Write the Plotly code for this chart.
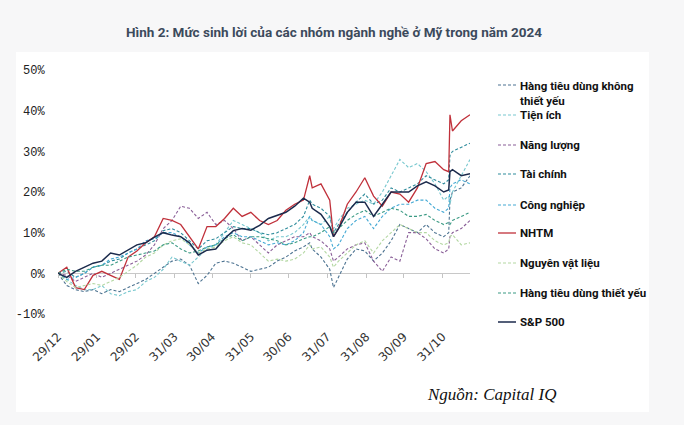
import plotly.graph_objects as go

# ---------------- data ----------------
dates = [
    "2023-12-29", "2024-01-05", "2024-01-12", "2024-01-19", "2024-01-26",
    "2024-02-02", "2024-02-09", "2024-02-16", "2024-02-23", "2024-03-01",
    "2024-03-08", "2024-03-15", "2024-03-22", "2024-03-29", "2024-04-05",
    "2024-04-12", "2024-04-19", "2024-04-26", "2024-05-03", "2024-05-10",
    "2024-05-17", "2024-05-24", "2024-05-31", "2024-06-07", "2024-06-14",
    "2024-06-21", "2024-06-28", "2024-07-05", "2024-07-12", "2024-07-17",
    "2024-07-19", "2024-07-26", "2024-08-02", "2024-08-05", "2024-08-09",
    "2024-08-16", "2024-08-23", "2024-08-30", "2024-09-06", "2024-09-13",
    "2024-09-20", "2024-09-27", "2024-10-04", "2024-10-11", "2024-10-18",
    "2024-10-25", "2024-11-01", "2024-11-05", "2024-11-06", "2024-11-08",
    "2024-11-15", "2024-11-22",
]

htd_khong_thiet_yeu = [0, -3, -4, -4.5, -4, -5, -4, -4.5, -3.5, -2.5, -1.5, 0, 1.5, 3, 3.5,
                       2, -2.5, -0.5, 2.5, 3, 2.5, 1.5, 0.5, 1, 1.5, 3, 4, 5.5, 6.5, 7.5,
                       6, 4, 1, -3.5, -1, 3.5, 6, 5.5, 3, 5, 8, 12, 11, 10, 12,
                       10, 9, 10, 18, 20, 21, 24]
tien_ich = [0, -1.5, -3, -4, -4, -3, -5, -5.5, -4.5, -4, -2, -1, 1, 4, 3,
            2, 4, 6, 7, 10, 13, 12, 11, 10, 8, 9, 9, 10, 12, 14,
            13, 12, 14, 11, 13, 16, 17, 18, 17, 20, 24, 28, 26, 27, 25,
            22, 18, 19, 17, 20, 24, 28]
nang_luong = [0, -0.5, -2, -1, 0, -1, 0, 1, 2, 3, 4.5, 7, 11, 13, 16.5,
              16, 13.5, 15, 12, 13, 11, 8, 9, 7, 5, 7, 8, 9, 9, 10,
              9, 8, 6, 3, 4, 6, 7, 7.5, 3, 0.5, 4, 3, 10, 10, 8.5,
              6, 5, 6, 9, 10, 11, 13]
tai_chinh = [0, 0.5, -1, 0, 1.5, 2, 3, 3.5, 5, 6, 7, 8, 10.5, 11, 10,
             8, 6, 8, 8.5, 10, 11.5, 11, 11, 10, 9.5, 10, 11, 12, 14, 18,
             17, 16, 14, 10, 12, 15, 17.5, 19.5, 17, 18, 21, 20, 21, 22, 24,
             23, 22, 23, 29, 30, 31, 32]
cong_nghiep = [0, -1.5, -1, 0, 1.5, 2, 3.5, 4, 5, 6, 8, 8.5, 10, 10, 9,
               7, 5, 6.5, 7, 9, 10, 9, 9, 8, 7, 7.5, 7, 8, 10, 14,
               13, 12, 9, 6, 7, 11, 13, 14, 11, 14, 16, 17, 17, 18, 18,
               16, 15, 16, 21, 22, 23, 22]
nhtm = [0, 1.5, -3.5, -4.0, -0.5, 0.5, -0.5, -1.5, 4.0, 5.5, 7.5, 9.0, 13.5, 13.0, 12.0,
        9.0, 6.0, 11.5, 11.5, 13.5, 16.0, 14.0, 15.0, 13.0, 12.0, 13.0, 15.5, 17.0, 18.0, 24.0,
        21.0, 22.0, 18.0, 9.0, 11.0, 17.0, 20.0, 23.5, 19.0, 16.5, 20.0, 19.5, 17.5, 21.0, 27.0,
        27.5, 25.5, 25.0, 39.0, 35.0, 37.5, 39.0]
nguyen_vat_lieu = [0, -2, -3.5, -3, -2.5, -3, -2, -1, 0.5, 2, 4, 5, 7, 8, 8.5,
                   7, 5, 6, 6.5, 8, 9, 7.5, 7, 5, 3, 3.5, 3, 3.5, 5, 7,
                   6, 6.5, 4, 1.5, 3, 5, 7, 8, 5, 8, 10, 12, 11, 10, 10,
                   8, 7, 7.5, 9, 9.5, 7, 7.5]
htd_thiet_yeu = [0, 1, 0.5, 0.5, 1.5, 2, 2, 3, 4, 4.5, 5, 5.5, 7, 7.5, 6,
                 5, 5.5, 6.5, 7, 8.5, 9.5, 8, 9, 9, 8.5, 8, 7, 7.5, 8.5, 9,
                 9, 10, 11.5, 10, 11, 13, 14.5, 15.5, 14, 15, 16, 15.5, 14, 14, 14.5,
                 13, 12, 12.5, 12, 13, 14, 15]
sp500 = [0, -1.0, 0.5, 1.5, 2.5, 3.0, 5.0, 4.5, 5.7, 7.0, 7.5, 8.9, 10.0, 9.4, 9.0,
         7.5, 4.5, 5.7, 6.0, 8.5, 10.5, 11.0, 10.6, 11.8, 13.5, 14.3, 15.0, 16.5, 18.5, 17.5,
         16.0, 14.5, 11.5, 9.0, 11.0, 15.0, 17.5, 17.5, 14.0, 17.0, 20.0, 20.0, 20.0, 21.5, 22.5,
         21.5, 20.0, 20.5, 25.0, 25.5, 24.0, 24.5]

series_names = ["Hàng tiêu dùng không thiết yếu", "Tiện ích", "Năng lượng", "Tài chính",
                "Công nghiệp", "NHTM", "Nguyên vật liệu", "Hàng tiêu dùng thiết yếu", "S&P 500"]
legend_labels = ["Hàng tiêu dùng không<br>thiết yếu", "Tiện ích", "Năng lượng", "Tài chính",
                 "Công nghiệp", "NHTM", "Nguyên vật liệu", "Hàng tiêu dùng thiết yếu", "S&P 500"]

x_tick_vals = ["2023-12-29", "2024-01-29", "2024-02-29", "2024-03-31", "2024-04-30",
               "2024-05-31", "2024-06-30", "2024-07-31", "2024-08-31", "2024-09-30", "2024-10-31"]
x_tick_text = ["29/12", "29/01", "29/02", "31/03", "30/04", "31/05", "30/06", "31/07",
               "31/08", "30/09", "31/10"]
y_tick_vals = [-10, 0, 10, 20, 30, 40, 50]
y_tick_text = ["-10%", "0%", "10%", "20%", "30%", "40%", "50%"]

title_text = "Hình 2: Mức sinh lời của các nhóm ngành nghề ở Mỹ trong năm 2024"
source_text = "Nguồn: Capital IQ"

# ---------------- styling ----------------
all_values = [htd_khong_thiet_yeu, tien_ich, nang_luong, tai_chinh, cong_nghiep,
              nhtm, nguyen_vat_lieu, htd_thiet_yeu, sp500]
colors = ["#4d7391", "#78c8cf", "#8a5f98", "#2f8c9c", "#44a9d4",
          "#c0303a", "#b3d7a2", "#3b9a84", "#1b2a4c"]
dashes = ["3px,2px"] * 5 + ["solid", "3px,2px", "3px,2px", "solid"]
widths = [1.1] * 5 + [1.3, 1.1, 1.1, 1.5]

W, H = 684, 425
L, R, T, B = 58, 470, 70, 314  # plot area in px
pw, ph = R - L, B - T


def px_x(x):
    return (x - L) / pw


def px_y(y):
    return (B - y) / ph


fig = go.Figure()
for name, vals, c, d, w in zip(series_names, all_values, colors, dashes, widths):
    fig.add_trace(go.Scatter(x=dates, y=vals, mode="lines", name=name,
                             line=dict(color=c, width=w, dash=d),
                             showlegend=False, hoverinfo="skip"))

# invisible trace to carry the tick marks sitting on the zero line
fig.add_trace(go.Scatter(x=dates, y=sp500, xaxis="x2", mode="lines",
                         line=dict(width=0), opacity=0, showlegend=False, hoverinfo="skip"))

legend_font = "Roboto, Liberation Sans, Arial, sans-serif"

shapes = [dict(type="rect", xref="paper", yref="paper",
               x0=px_x(16), x1=px_x(649), y0=px_y(412), y1=px_y(52),
               fillcolor="white", line=dict(width=0), layer="below")]
annotations = []

legend_y = [85, 115, 145, 174, 205, 233, 263, 293, 322]
for lab, yy, c, d, w in zip(legend_labels, legend_y, colors, dashes, widths):
    shapes.append(dict(type="line", xref="paper", yref="paper",
                       x0=px_x(498), x1=px_x(516), y0=px_y(yy), y1=px_y(yy),
                       line=dict(color=c, width=w, dash=d)))
    if "<br>" in lab:
        annotations.append(dict(text="<b>" + lab + "</b>", xref="paper", yref="paper",
                                x=px_x(518), y=px_y(yy - 8), xanchor="left", yanchor="top",
                                align="left", showarrow=False,
                                font=dict(family=legend_font, size=11.5, color="#111111")))
    else:
        annotations.append(dict(text="<b>" + lab + "</b>", xref="paper", yref="paper",
                                x=px_x(518), y=px_y(yy), xanchor="left", yanchor="middle",
                                align="left", showarrow=False,
                                font=dict(family=legend_font, size=11.5, color="#111111")))

annotations.append(dict(text="<i>" + source_text + "</i>", xref="paper", yref="paper",
                        x=px_x(491), y=px_y(395), xanchor="center", yanchor="middle",
                        showarrow=False,
                        font=dict(family="Liberation Serif, serif", size=17, color="#111111")))

fig.update_layout(
    width=W, height=H,
    margin=dict(l=L, r=W - R, t=T, b=H - B, pad=0),
    paper_bgcolor="#f7f7f8",
    plot_bgcolor="white",
    title=dict(text="<b>" + title_text + "</b>", x=334 / W, y=1 - 32 / H,
               xanchor="center", yanchor="middle",
               font=dict(family="Roboto, Liberation Sans, sans-serif", size=13.5,
                         color="#3c4a5c")),
    shapes=shapes,
    annotations=annotations,
    xaxis=dict(type="date", range=["2023-12-29", "2024-11-22"],
               tickvals=x_tick_vals, ticktext=x_tick_text, tickangle=-45,
               ticks="outside", ticklen=10, tickcolor="rgba(0,0,0,0)",
               showgrid=False, zeroline=False, showline=False,
               tickfont=dict(family="DejaVu Sans, sans-serif", size=12, color="#333333")),
    xaxis2=dict(type="date", overlaying="x", matches="x", anchor="free",
                position=px_y(273), side="bottom",
                tickvals=x_tick_vals, showticklabels=False,
                ticks="outside", ticklen=4, tickcolor="#c4c4c4", tickwidth=1,
                showgrid=False, zeroline=False, showline=False),
    yaxis=dict(range=[-10, 50], tickvals=y_tick_vals, ticktext=y_tick_text,
               ticks="outside", ticklen=10, tickcolor="rgba(0,0,0,0)",
               showgrid=False, zeroline=True, zerolinecolor="#c8c8c8", zerolinewidth=1,
               showline=False,
               tickfont=dict(family="Liberation Mono, DejaVu Sans Mono, monospace",
                             size=12, color="#222222")),
)

fig.write_html("out.html")
